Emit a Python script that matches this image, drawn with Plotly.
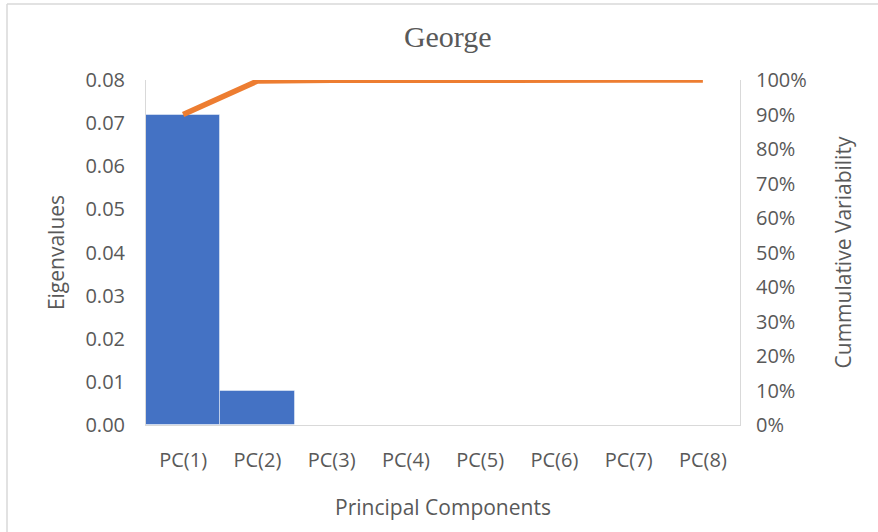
import plotly.graph_objects as go

# Scree data: eigenvalue per component and cumulative share of variance
components = ["PC(1)", "PC(2)", "PC(3)", "PC(4)", "PC(5)", "PC(6)", "PC(7)", "PC(8)"]
eigenvalues = [0.072, 0.008, 0.0001, 0.00003, 0.00001, 0.0, 0.0, 0.0]
cumulative = [0.90, 0.997, 0.999, 1.0, 1.0, 1.0, 1.0, 1.0]

left_ticks = [0, 0.01, 0.02, 0.03, 0.04, 0.05, 0.06, 0.07, 0.08]
right_ticks = [0, 0.1, 0.2, 0.3, 0.4, 0.5, 0.6, 0.7, 0.8, 0.9, 1.0]

GRAY = "#595959"
AXIS_GRAY = "#D9D9D9"
FONT = "Open Sans"
TICK_SIZE = 20
TITLE_SIZE = 21

fig = go.Figure()
fig.add_trace(go.Bar(
    x=components, y=eigenvalues,
    marker=dict(color="#4472C4", line=dict(color="rgba(255,255,255,0.45)", width=1)),
    yaxis="y", showlegend=False,
))
fig.add_trace(go.Scatter(
    x=components, y=cumulative, mode="lines",
    line=dict(color="#ED7D31", width=5.5),
    yaxis="y2", showlegend=False,
))

fig.update_layout(
    width=878, height=532,
    margin=dict(l=146, r=138, t=80, b=107),
    paper_bgcolor="white", plot_bgcolor="white",
    bargap=0,
    title=dict(text="George", x=0.51, xanchor="center", y=0.932, yanchor="middle",
               font=dict(family="Liberation Serif", size=30, color=GRAY)),
    font=dict(family=FONT, size=TICK_SIZE, color=GRAY),
    xaxis=dict(
        title=dict(text="Principal Components", standoff=28,
                   font=dict(size=TITLE_SIZE, color=GRAY)),
        showline=True, linecolor=AXIS_GRAY, linewidth=1,
        showgrid=False, ticks="", ticklabelstandoff=17,
        tickfont=dict(size=TICK_SIZE, color=GRAY),
    ),
    yaxis=dict(
        title=dict(text="Eigenvalues", standoff=15, font=dict(size=TITLE_SIZE, color=GRAY)),
        range=[0, 0.08], tickvals=left_ticks, tickformat=".2f",
        showline=True, linecolor=AXIS_GRAY, linewidth=1,
        showgrid=False, zeroline=False, ticks="", ticklabelstandoff=16,
        tickfont=dict(size=TICK_SIZE, color=GRAY),
    ),
    yaxis2=dict(
        title=dict(text="Cummulative Variability", standoff=30,
                   font=dict(size=TITLE_SIZE, color=GRAY)),
        overlaying="y", side="right",
        range=[0, 1.0], tickvals=right_ticks, tickformat=".0%",
        showline=True, linecolor=AXIS_GRAY, linewidth=1,
        showgrid=False, zeroline=False, ticks="", ticklabelstandoff=11,
        tickfont=dict(size=TICK_SIZE, color=GRAY),
    ),
)

# Chart frame edges (left and top)
fig.add_shape(type="line", xref="paper", yref="paper",
              x0=(7 - 146) / 594, x1=(7 - 146) / 594, y0=-107 / 345, y1=(425 - 4) / 345,
              line=dict(color=AXIS_GRAY, width=1.5))
fig.add_shape(type="line", xref="paper", yref="paper",
              x0=(7 - 146) / 594, x1=(878 - 146) / 594, y0=(425 - 4) / 345, y1=(425 - 4) / 345,
              line=dict(color=AXIS_GRAY, width=1.5))

fig.write_html("out.html")
